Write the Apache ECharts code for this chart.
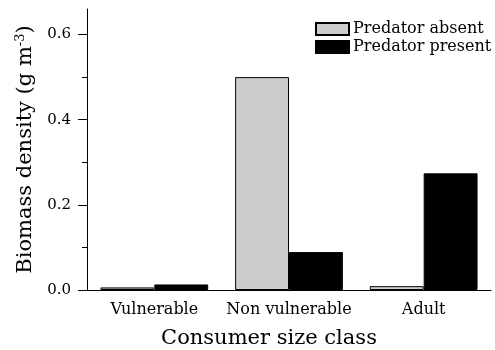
<!DOCTYPE html>
<html><head><meta charset="utf-8">
<script src="https://cdn.jsdelivr.net/npm/echarts@6/dist/echarts.min.js"></script>
<style>html,body{margin:0;padding:0;background:#fff}#c{width:495px;height:350px}</style>
</head><body><div id="c"></div>
<script>
const categories = ['Vulnerable', 'Non vulnerable', 'Adult'];
const predatorAbsent = [0.006, 0.5, 0.009];
const predatorPresent = [0.013, 0.089, 0.274];
const yMajorTicks = [0, 0.2, 0.4, 0.6];
const yMinorTicks = [0.1, 0.3, 0.5];

const font = 'DejaVu Serif';
const chart = echarts.init(document.getElementById('c'), null, {renderer: 'canvas'});
chart.setOption({
  animation: false,
  grid: {left: 87, right: 4, top: 9, bottom: 60, containLabel: false, outerBoundsMode: 'none'},
  legend: {
    orient: 'vertical', left: 310, top: 15,
    icon: 'rect',
    itemWidth: 33, itemHeight: 12, itemGap: 0,
    textStyle: {fontFamily: font, fontSize: 16, color: '#000', lineHeight: 18, padding: [0,0,0,-1]},
    data: ['Predator absent', 'Predator present']
  },
  xAxis: [{
    type: 'category', data: categories,
    axisLine: {lineStyle: {color: '#000', width: 1}},
    axisTick: {alignWithLabel: true, length: 7, lineStyle: {color: '#000'}},
    axisLabel: {fontFamily: font, fontSize: 16, color: '#000', margin: 12, interval: 0, hideOverlap: false},
    name: 'Consumer size class', nameLocation: 'middle', nameGap: 38,
    nameTextStyle: {fontFamily: font, fontSize: 21, color: '#000', padding: [0, 40, 0, 0]}
  }, {
    type: 'category', data: categories, position: 'bottom',
    axisLine: {show: false},
    axisTick: {length: 4, lineStyle: {color: '#000'}},
    axisLabel: {show: false}
  }],
  yAxis: [{
    type: 'value', min: 0, max: 0.66,
    axisLine: {show: true, lineStyle: {color: '#000'}},
    axisTick: {show: true, length: 9, customValues: yMajorTicks, lineStyle: {color: '#000'}},
    axisLabel: {customValues: yMajorTicks, fontFamily: font, fontSize: 15, color: '#000', margin: 16,
      formatter: v => v.toFixed(1)},
    splitLine: {show: false},
    name: '{a|Biomass density (g m}{s|-3}{a|)}', nameLocation: 'middle', nameGap: 47,
    nameTextStyle: {rich: {
      a: {fontFamily: font, fontSize: 21, color: '#000'},
      s: {fontFamily: font, fontSize: 13, color: '#000', verticalAlign: 'bottom', padding: [0,0,10,0]}
    }}
  }, {
    type: 'value', min: 0, max: 0.66, position: 'left',
    axisLine: {show: false},
    axisTick: {show: true, length: 5, customValues: yMinorTicks, lineStyle: {color: '#000'}},
    axisLabel: {show: false},
    splitLine: {show: false}
  }],
  series: [{
    name: 'Predator absent', type: 'bar', data: predatorAbsent,
    barGap: '0%', barCategoryGap: '20%',
    itemStyle: {color: '#cccccc', borderColor: '#000', borderWidth: 1}
  }, {
    name: 'Predator present', type: 'bar', data: predatorPresent,
    itemStyle: {color: '#000', borderColor: '#000', borderWidth: 1}
  }]
});
</script></body></html>
